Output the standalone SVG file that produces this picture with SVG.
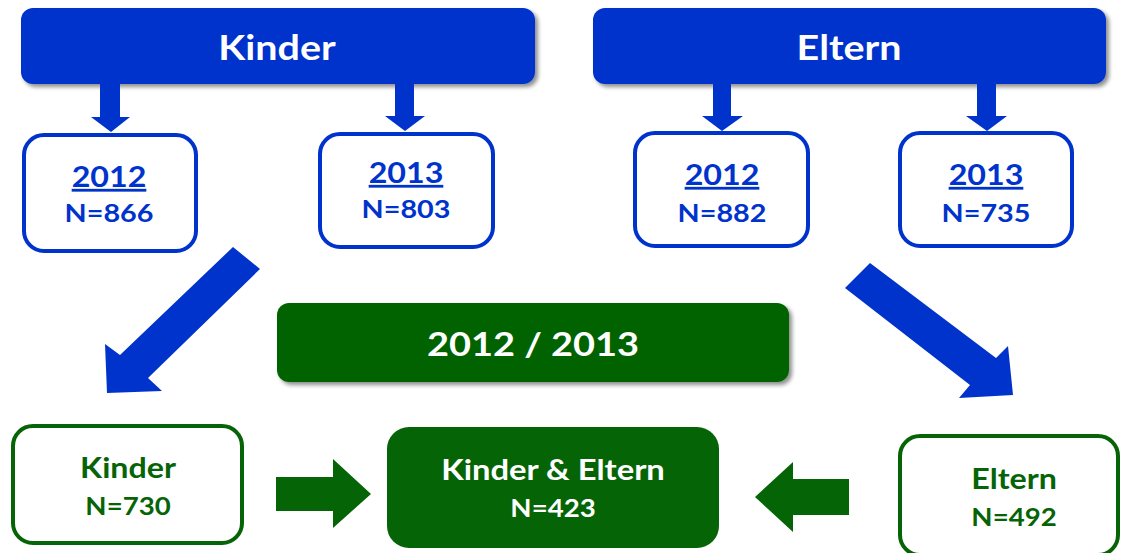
<svg xmlns="http://www.w3.org/2000/svg" width="1122" height="553" viewBox="0 0 1122 553">
<defs>
<filter id="sh" x="-5%" y="-10%" width="115%" height="130%">
<feGaussianBlur in="SourceAlpha" stdDeviation="2"/>
<feOffset dx="3" dy="3" result="b"/>
<feComponentTransfer><feFuncA type="linear" slope="0.45"/></feComponentTransfer>
<feMerge><feMergeNode/><feMergeNode in="SourceGraphic"/></feMerge>
</filter>
<style>
.hdr{fill:#0033CC;filter:url(#sh)}
.bbox{fill:#fff;stroke:#0033CC;stroke-width:4}
.gbox{fill:#fff;stroke:#066406;stroke-width:4}
.gfill{fill:#056405}
.ban{fill:#056405;filter:url(#sh)}
.barr{fill:#0033CC}
.garr{fill:#056405}
text{font-family:Lato,"Open Sans","Liberation Sans",sans-serif;font-weight:700;text-anchor:middle}
.wt{fill:#fff}
.bt{fill:#0033CC}
.gt{fill:#066406}
.h{font-size:34px}
.yr{font-size:28px;text-decoration:underline}
.n{font-size:25px}
.g{font-size:28px}
.gn{font-size:24px}
</style>
</defs>
<g id="kinder-header"><rect class="hdr" x="21" y="8" width="514" height="76" rx="12"/><text class="wt h" transform="translate(277 0) scale(1.16 1)" x="0" y="60">Kinder</text></g>
<g id="eltern-header"><rect class="hdr" x="593" y="8" width="513" height="76" rx="12"/><text class="wt h" transform="translate(849 0) scale(1.16 1)" x="0" y="60">Eltern</text></g>
<g id="k2012"><rect class="bbox" x="24" y="135" width="172" height="116" rx="20"/><text class="bt yr" transform="translate(109 0) scale(1.15 1)" x="0" y="187">2012</text><text class="bt n" transform="translate(109 0) scale(1.15 1)" x="0" y="222">N=866</text></g>
<g id="k2013"><rect class="bbox" x="320" y="134" width="173" height="113" rx="20"/><text class="bt yr" transform="translate(406 0) scale(1.15 1)" x="0" y="183">2013</text><text class="bt n" transform="translate(406 0) scale(1.15 1)" x="0" y="218">N=803</text></g>
<g id="e2012"><rect class="bbox" x="635" y="133" width="173" height="113" rx="20"/><text class="bt yr" transform="translate(722 0) scale(1.15 1)" x="0" y="185">2012</text><text class="bt n" transform="translate(722 0) scale(1.15 1)" x="0" y="222">N=882</text></g>
<g id="e2013"><rect class="bbox" x="900" y="133" width="172" height="113" rx="20"/><text class="bt yr" transform="translate(986 0) scale(1.15 1)" x="0" y="185">2013</text><text class="bt n" transform="translate(986 0) scale(1.15 1)" x="0" y="222">N=735</text></g>
<g id="banner"><rect class="ban" x="277" y="303" width="512" height="79" rx="12"/><text class="wt" style="font-size:33px" transform="translate(533 0) scale(1.15 1)" x="0" y="356">2012 / 2013</text></g>
<g id="kinder-result"><rect class="gbox" x="13" y="426" width="229" height="117" rx="20"/><text class="gt g" transform="translate(128 0) scale(1.15 1)" x="0" y="478">Kinder</text><text class="gt gn" transform="translate(128 0) scale(1.15 1)" x="0" y="515">N=730</text></g>
<g id="both"><rect class="gfill" x="387" y="427" width="332" height="121" rx="22"/><text class="wt g" transform="translate(553 0) scale(1.17 1)" x="0" y="480">Kinder &amp; Eltern</text><text class="wt gn" transform="translate(553 0) scale(1.15 1)" x="0" y="517">N=423</text></g>
<g id="eltern-result"><rect class="gbox" x="900" y="436" width="218" height="119" rx="20"/><text class="gt g" transform="translate(1014 0) scale(1.15 1)" x="0" y="489">Eltern</text><text class="gt gn" transform="translate(1014 0) scale(1.15 1)" x="0" y="526">N=492</text></g>
<g id="connectors">
<polygon class="barr" points="100,84 120,84 120,117 130,117 111,132 91,117 100,117"/>
<polygon class="barr" points="395,84 414,84 414,116 425,116 405,131 385,116 395,116"/>
<polygon class="barr" points="713,84 731,84 731,116 743,116 722,131 702,116 713,116"/>
<polygon class="barr" points="977,84 996,84 996,116 1007,116 987,131 966,116 977,116"/>
<polygon class="barr" points="233,247 260,269 148,378 162,391 107,393 105,344 120,355"/>
<polygon class="barr" points="870,263 845,288 970,385 959,398 1013,395 1008,346 996,358"/>
<polygon class="garr" points="276,477 333,477 333,459 371,494 333,528 333,511 276,511"/>
<polygon class="garr" points="849,479 793,479 793,462 755,497 793,532 793,515 849,515"/>
</g>
</svg>
